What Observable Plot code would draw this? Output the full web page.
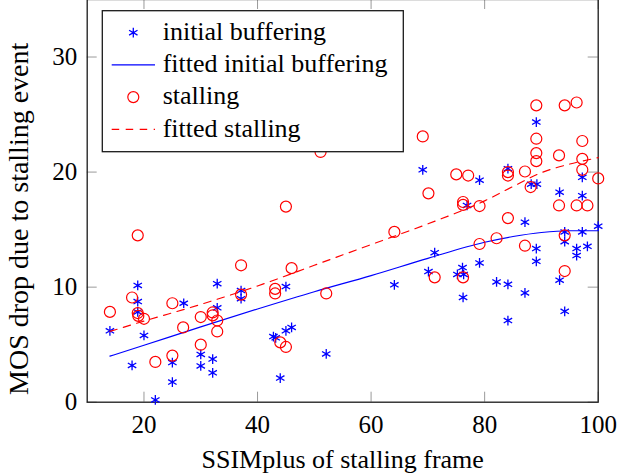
<!DOCTYPE html>
<html>
<head>
<meta charset="utf-8">
<script src="https://cdn.jsdelivr.net/npm/d3@7"></script>
<script src="https://cdn.jsdelivr.net/npm/@observablehq/plot@0.6"></script>
<style>
  html, body { margin: 0; padding: 0; background: white; }
  #wrap { position: relative; width: 618px; height: 475px; overflow: hidden; background: white; }
  #wrap > svg.plot { position: absolute; left: 0; top: -2px; }
  #legend { position: absolute; left: 0; top: 0; pointer-events: none; }
  #wrap svg, #wrap svg text { font-family: "Liberation Serif", "Times New Roman", serif !important; }
</style>
</head>
<body>
<div id="wrap"></div>
<script>
// ---- data ----
const bufX = [14.0, 18.9, 18.9, 18.9, 20.0, 17.9, 25.0, 25.0, 22.0, 27.0,
  32.9, 32.9, 30.0, 30.0, 32.1, 32.1, 37.1, 37.1, 42.8, 43.2,
  45.0, 46.0, 45.0, 44.0, 52.1, 69.1, 71.2, 70.1, 64.1, 79.1,
  76.9, 76.1, 75.2, 76.3, 76.2, 79.1, 82.1, 84.1, 84.1, 87.1,
  84.1, 87.1, 88.2, 89.2, 89.1, 89.1, 89.1, 93.2, 93.2, 94.1,
  94.1, 94.1, 96.2, 96.2, 98.1, 97.2, 97.2, 97.2, 100.0];
const bufY = [6.2, 10.15, 8.75, 7.85, 5.8, 3.2, 3.45, 1.75, 0.2, 8.6,
  10.3, 8.2, 4.15, 3.15, 3.75, 2.55, 9.7, 9.0, 5.7, 5.6,
  6.2, 6.5, 10.05, 2.1, 4.2, 20.2, 13.0, 11.35, 10.2, 19.3,
  17.1, 11.7, 11.1, 11.1, 9.1, 12.1, 10.45, 10.25, 7.1, 9.5,
  20.3, 15.65, 18.95, 18.95, 24.35, 13.35, 12.25, 18.25, 10.6, 14.8,
  13.95, 7.9, 13.35, 12.75, 13.55, 14.8, 17.95, 19.55, 15.3];

const stallX = [14.0, 17.9, 18.9, 18.9, 19.0, 20.0, 25.0, 26.9, 25.0, 22.0,
  30.0, 30.0, 32.1, 32.1, 32.9, 32.9, 37.1, 37.1, 43.1, 43.1,
  44.0, 45.0, 45.0, 46.0, 52.1, 51.1, 69.1, 70.1, 64.1, 71.2,
  75.0, 77.1, 76.2, 76.2, 79.1, 76.2, 79.1, 82.1, 84.1, 84.1,
  84.1, 87.1, 88.1, 87.1, 89.1, 89.1, 89.1, 89.1, 93.1, 94.1,
  96.2, 97.2, 97.2, 97.2, 100.0, 93.1, 96.2, 98.1, 94.1, 94.1];
const stallY = [7.85, 9.1, 14.5, 7.75, 7.5, 7.25, 8.6, 6.5, 4.05, 3.5,
  7.4, 5.0, 7.8, 7.55, 7.1, 6.15, 11.9, 9.35, 9.85, 9.45,
  5.2, 4.8, 17.0, 11.65, 9.45, 21.75, 23.1, 18.15, 14.8, 10.85,
  19.8, 19.7, 17.4, 17.15, 17.05, 10.85, 13.75, 14.25, 20.0, 19.7,
  16.0, 20.05, 18.7, 13.6, 25.8, 22.9, 21.65, 20.95, 21.45, 25.8,
  26.05, 22.7, 21.15, 20.2, 19.45, 17.1, 17.1, 17.1, 14.5, 11.4];

const fitBufX = [14, 20, 30, 40, 50, 60, 70, 80, 85, 90, 95, 100];
const fitBufY = [4.0, 4.95, 6.55, 8.1, 9.6, 11.0, 12.5, 13.9, 14.4, 14.75, 14.9, 14.9];

const fitStallX = [14, 20, 30, 40, 50, 60, 70, 80, 85, 90, 95, 100];
const fitStallY = [6.15, 7.05, 8.5, 10.1, 11.9, 13.7, 15.5, 17.5, 18.75, 19.95, 20.7, 21.25];

const xTicks = [20, 40, 60, 80, 100];
const yTicks = [0, 10, 20, 30];
const xLabel = ["SSIMplus of stalling frame"];
const yLabel = ["MOS drop due to stalling event"];
const legendLabels = ["initial buffering", "fitted initial buffering", "stalling", "fitted stalling"];

// ---- tables ----
const buf = bufX.map((x, i) => ({x, y: bufY[i]}));
const stall = stallX.map((x, i) => ({x, y: stallY[i]}));
const fitBuf = fitBufX.map((x, i) => ({x, y: fitBufY[i]}));
const fitStall = fitStallX.map((x, i) => ({x, y: fitStallY[i]}));

const FONT = '"Liberation Serif", "Times New Roman", serif';
const W = 618, H = 476;
const mL = 86.7, mR = 20.3, mT = 1, mB = 72.3;
const frameW = W - mL - mR, frameH = H - mT - mB;
const tickLen = 10;
const tickColor = "#9a9a9a";
const starR = 4.6;

const chart = Plot.plot({
  width: W, height: H,
  marginLeft: mL, marginRight: mR, marginTop: mT, marginBottom: mB,
  x: {domain: [10, 100]},
  y: {domain: [0, 35]},
  style: {fontFamily: FONT, fontSize: "25px", background: "white", color: "black"},
  marks: [
    Plot.tickX(xTicks, {x: d => d, insetTop: frameH - tickLen, stroke: tickColor, strokeWidth: 1}),
    Plot.tickX(xTicks, {x: d => d, insetBottom: frameH - tickLen, stroke: tickColor, strokeWidth: 1}),
    Plot.tickY(yTicks, {y: d => d, insetRight: frameW - tickLen, stroke: tickColor, strokeWidth: 1}),
    Plot.tickY(yTicks, {y: d => d, insetLeft: frameW - tickLen, stroke: tickColor, strokeWidth: 1}),
    Plot.axisX(xTicks, {anchor: "bottom", tickSize: 0, tickPadding: 13, label: null, fontSize: 25}),
    Plot.axisY(yTicks, {anchor: "left", tickSize: 0, tickPadding: 10, label: null, fontSize: 25}),
    Plot.frame({stroke: "#1a1a1a", strokeWidth: 1.3}),
    Plot.dot(buf, {x: "x", y: "y", symbol: "asterisk", r: starR, stroke: "#0000ff", strokeWidth: 1.3}),
    Plot.line(fitBuf, {x: "x", y: "y", stroke: "#0000ff", strokeWidth: 1.2, curve: "monotone-x"}),
    Plot.dot(stall, {x: "x", y: "y", symbol: "circle", r: 5.5, stroke: "#ff0000", fill: "none", strokeWidth: 1.2}),
    Plot.line(fitStall, {x: "x", y: "y", stroke: "#ff0000", strokeWidth: 1.2, strokeDasharray: "7.5,6.5", curve: "monotone-x"}),
    Plot.text(xLabel, {text: d => d, frameAnchor: "bottom", dy: 57, fontSize: 26, lineAnchor: "middle", textAnchor: "middle"}),
    Plot.text(yLabel, {text: d => d, frameAnchor: "left", rotate: -90, dx: -68, dy: 18, fontSize: 28, lineAnchor: "middle", textAnchor: "middle"})
  ]
});
chart.classList.add("plot");
document.getElementById("wrap").appendChild(chart);

// ---- legend (inside the axes, upper left) ----
const lg = d3.select("#wrap").append("svg")
  .attr("id", "legend").attr("width", 618).attr("height", 475);
lg.append("rect")
  .attr("x", 102.3).attr("y", 10.7).attr("width", 301).attr("height", 141)
  .attr("fill", "white").attr("stroke", "#1a1a1a").attr("stroke-width", 1.3);
const symX = 133.3, lineX1 = 111.7, lineX2 = 155, textX = 162.7;
const base0 = 40, rowStep = 32.2, symOff = 7.3;
legendLabels.forEach((lab, i) => {
  const by = base0 + rowStep * i;
  const sy = by - symOff;
  if (i === 0) {
    lg.append("path").attr("d", d3.symbol(d3.symbolAsterisk, Math.PI * starR * starR)())
      .attr("transform", `translate(${symX},${sy})`)
      .attr("stroke", "#0000ff").attr("stroke-width", 1.3).attr("fill", "none");
  } else if (i === 1) {
    lg.append("line").attr("x1", lineX1).attr("x2", lineX2).attr("y1", sy).attr("y2", sy)
      .attr("stroke", "#0000ff").attr("stroke-width", 1.2);
  } else if (i === 2) {
    lg.append("circle").attr("cx", symX).attr("cy", sy).attr("r", 5.5)
      .attr("stroke", "#ff0000").attr("stroke-width", 1.2).attr("fill", "none");
  } else {
    lg.append("line").attr("x1", lineX1).attr("x2", lineX2).attr("y1", sy).attr("y2", sy)
      .attr("stroke", "#ff0000").attr("stroke-width", 1.2).attr("stroke-dasharray", "7.5,6.5");
  }
  lg.append("text").attr("x", textX).attr("y", by)
    .style("font-family", FONT).attr("font-size", 26)
    .attr("fill", "black").text(lab);
});
</script>
</body>
</html>
